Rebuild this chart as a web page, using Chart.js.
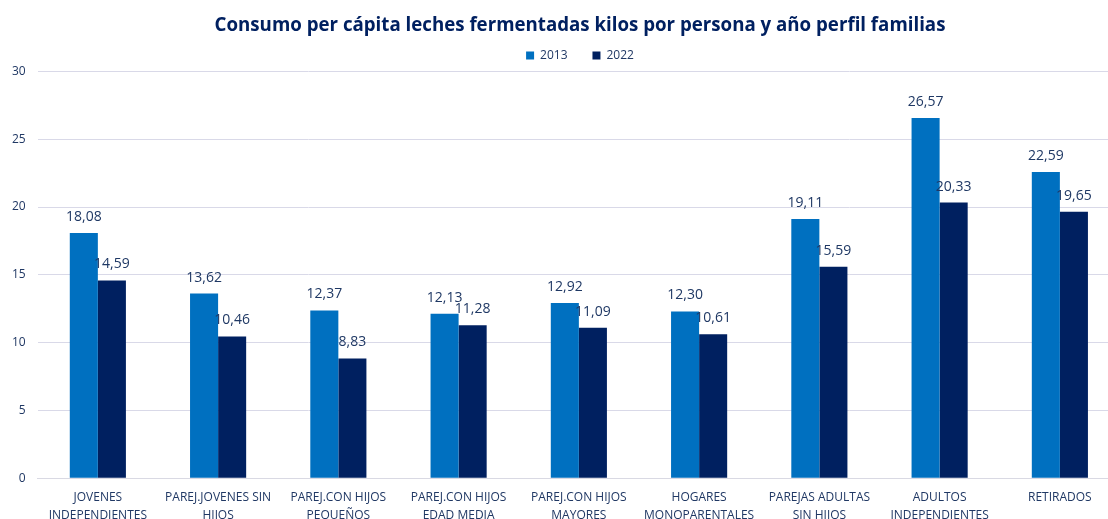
<!DOCTYPE html>
<html>
<head>
<meta charset="utf-8">
<script src="https://cdn.jsdelivr.net/npm/chart.js@4/dist/chart.umd.min.js"></script>
<style>
  html, body { margin: 0; padding: 0; background: #fff; overflow: hidden; }
  #wrap { width: 1160px; height: 519px; }
</style>
</head>
<body>
<div id="wrap"><canvas id="barchart"></canvas></div>
<script>
const categories = [
  ['JOVENES', 'INDEPENDIENTES'],
  ['PAREJ.JOVENES SIN', 'HIJOS'],
  ['PAREJ.CON HIJOS', 'PEQUEÑOS'],
  ['PAREJ.CON HIJOS', 'EDAD MEDIA'],
  ['PAREJ.CON HIJOS', 'MAYORES'],
  ['HOGARES', 'MONOPARENTALES'],
  ['PAREJAS ADULTAS', 'SIN HIJOS'],
  ['ADULTOS', 'INDEPENDIENTES'],
  ['RETIRADOS']
];
const values2013 = [18.08, 13.62, 12.37, 12.13, 12.92, 12.30, 19.11, 26.57, 22.59];
const values2022 = [14.59, 10.46, 8.83, 11.28, 11.09, 10.61, 15.59, 20.33, 19.65];
const yTicks = [0, 5, 10, 15, 20, 25, 30];

const textColor = '#203864';
const font = "'Open Sans', 'Noto Sans', sans-serif";

// draws the value above each bar, comma as decimal mark
const barLabels = {
  id: 'barLabels',
  afterDatasetsDraw(chart) {
    const ctx = chart.ctx;
    ctx.save();
    ctx.font = '14px ' + font;
    ctx.fillStyle = '#1F3864';
    ctx.textAlign = 'center';
    ctx.textBaseline = 'bottom';
    chart.data.datasets.forEach((ds, i) => {
      chart.getDatasetMeta(i).data.forEach((bar, j) => {
        const txt = ds.data[j].toFixed(2).replace('.', ',');
        ctx.fillText(txt, bar.x, bar.y - 9);
      });
    });
    ctx.restore();
  }
};

const chart = new Chart(document.getElementById('barchart'), {
  type: 'bar',
  data: {
    labels: categories,
    datasets: [
      { label: '2013', data: values2013, backgroundColor: '#0070C0' },
      { label: '2022', data: values2022, backgroundColor: '#002060' }
    ]
  },
  options: {
    responsive: true,
    maintainAspectRatio: false,
    animation: false,
    layout: { padding: { left: 0, right: 0, top: 8, bottom: -8 } },
    datasets: { bar: { categoryPercentage: 0.4667, barPercentage: 1 } },
    plugins: {
      title: {
        display: true,
        text: 'Consumo per cápita leches fermentadas kilos por persona y año perfil familias',
        color: '#002060',
        font: { family: font, size: 18.7, weight: 'bold' },
        padding: { top: 6, bottom: 13 }
      },
      legend: {
        display: true,
        labels: {
          color: textColor,
          font: { family: font, size: 12 },
          boxWidth: 8,
          boxHeight: 8,
          padding: 0,
          // extra space after the first entry, like the original
          generateLabels: (chart) => {
            const items = Chart.defaults.plugins.legend.labels.generateLabels(chart);
            items[0].text = items[0].text + '        ';
            return items;
          }
        }
      },
      tooltip: { enabled: false }
    },
    scales: {
      x: {
        grid: { display: false },
        border: { color: '#D9D9E3' },
        ticks: {
          color: textColor,
          font: { family: font, size: 12, lineHeight: 1.45 },
          maxRotation: 0,
          autoSkip: false,
          padding: 3
        }
      },
      y: {
        min: 0,
        max: 30,
        afterBuildTicks: (axis) => { axis.ticks = yTicks.map(v => ({ value: v })); },
        grid: { color: '#D9D9E8', drawTicks: false },
        border: { display: false },
        ticks: {
          color: textColor,
          font: { family: font, size: 12 },
          padding: 12
        }
      },
      // empty axis on the right, only reserves space so the plot runs past the frame
      yRight: {
        type: 'linear',
        position: 'right',
        grid: { display: false },
        border: { display: false },
        ticks: { display: false },
        afterFit: (axis) => { axis.width = 40; }
      }
    }
  },
  plugins: [barLabels]
});
</script>
</body>
</html>
